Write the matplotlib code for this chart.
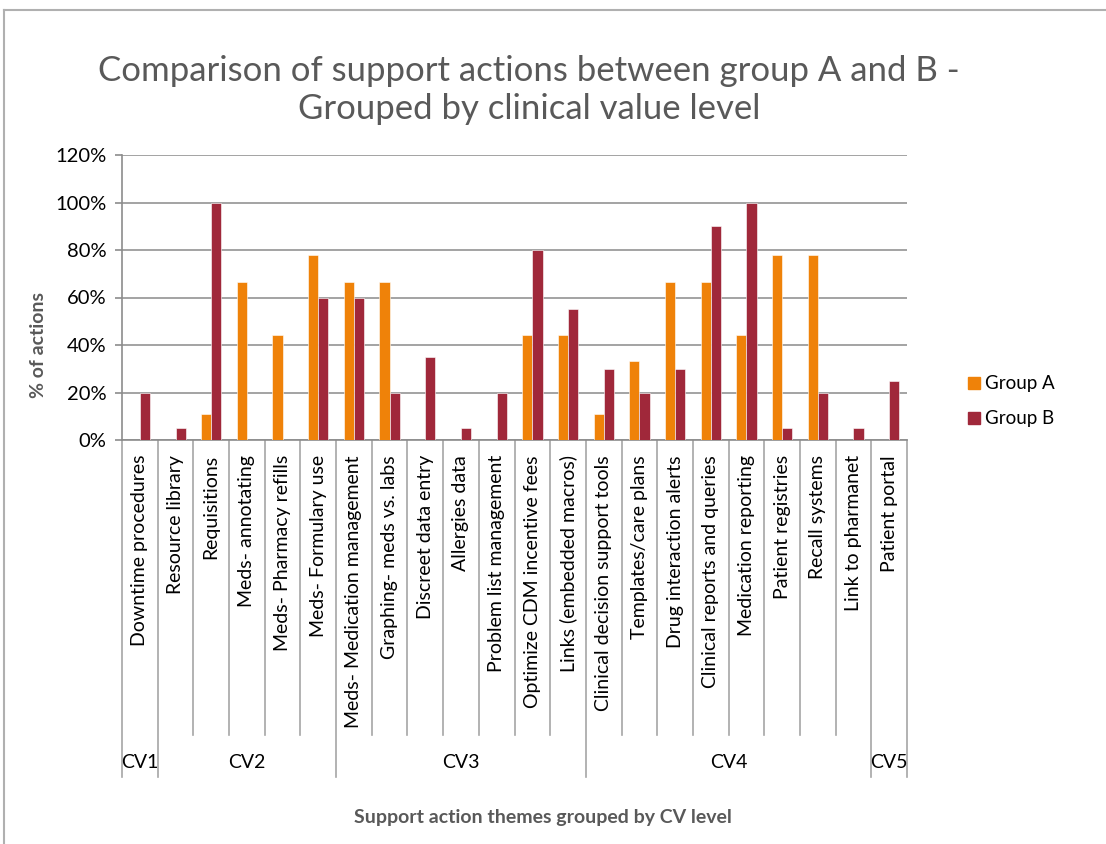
import matplotlib
matplotlib.use("Agg")
import matplotlib.pyplot as plt
import matplotlib.transforms as mtransforms
from matplotlib.lines import Line2D
from matplotlib.ticker import FuncFormatter, MultipleLocator
import numpy as np

plt.rcParams["font.family"] = ["Lato", "DejaVu Sans"]

# Support action themes, in display order
categories = [
    "Downtime procedures",
    "Resource library",
    "Requisitions",
    "Meds- annotating",
    "Meds- Pharmacy refills",
    "Meds- Formulary use",
    "Meds- Medication management",
    "Graphing- meds vs. labs",
    "Discreet data entry",
    "Allergies data",
    "Problem list management",
    "Optimize CDM incentive fees",
    "Links (embedded macros)",
    "Clinical decision support tools",
    "Templates/care plans",
    "Drug interaction alerts",
    "Clinical reports and queries",
    "Medication reporting",
    "Patient registries",
    "Recall systems",
    "Link to pharmanet",
    "Patient portal",
]

# Percentage of actions per theme
group_a = [0, 0, 11.1, 66.7, 44.4, 77.8, 66.7, 66.7, 0, 0, 0, 44.4, 44.4,
           11.1, 33.3, 66.7, 66.7, 44.4, 77.8, 77.8, 0, 0]
group_b = [20, 5, 100, 0, 0, 60, 60, 20, 35, 5, 20, 80, 55,
           30, 20, 30, 90, 100, 5, 20, 5, 25]

# Clinical value levels and how many themes each one covers
cv_levels = ["CV1", "CV2", "CV3", "CV4", "CV5"]
cv_sizes = [1, 5, 7, 8, 1]

series_names = ["Group A", "Group B"]
series_colors = ["#EF8209", "#A0283A"]

W, H = 1106, 844
fig = plt.figure(figsize=(W / 100, H / 100), dpi=100)

ax_left, ax_right, ax_top, ax_bottom = 122, 907, 155, 440
ax = fig.add_axes([ax_left / W, 1 - ax_bottom / H,
                   (ax_right - ax_left) / W, (ax_bottom - ax_top) / H])

n = len(categories)
x = np.arange(n)
bw = 1 / 3.5
ax.bar(x - bw / 2, group_a, bw, color=series_colors[0],
       edgecolor="white", linewidth=0.4, label=series_names[0], zorder=3)
ax.bar(x + bw / 2, group_b, bw, color=series_colors[1],
       edgecolor="white", linewidth=0.4, label=series_names[1], zorder=3)

ax.set_xlim(-0.5, n - 0.5)
ax.set_ylim(0, 120)
ax.yaxis.set_major_locator(MultipleLocator(20))
ax.yaxis.set_major_formatter(FuncFormatter(lambda v, p: f"{v:.0f}%"))
ax.grid(axis="y", color="#9C9C9C", linewidth=1.3, zorder=0)
ax.set_axisbelow(True)

for side in ("top", "right"):
    ax.spines[side].set_visible(False)
for side in ("left", "bottom"):
    ax.spines[side].set_color("#8C8C8C")
    ax.spines[side].set_linewidth(1.2)

ax.tick_params(axis="y", length=5, width=1.2, color="#8C8C8C",
               labelsize=14.5, labelcolor="black", pad=6)
ax.set_xticks([])

# Multi-level category axis below the plot
trans = mtransforms.blended_transform_factory(ax.transData, ax.transAxes)
px = ax_bottom - ax_top
cat_line_end = -(735 - ax_bottom) / px
grp_line_end = -(777 - ax_bottom) / px
label_top = -(455 - ax_bottom) / px
grp_label_y = -(762 - ax_bottom) / px

boundaries = np.concatenate([[0], np.cumsum(cv_sizes)]) - 0.5
for b in np.arange(-0.5, n, 1.0):
    end = grp_line_end if np.any(np.isclose(boundaries, b)) else cat_line_end
    ax.add_line(Line2D([b, b], [0, end], transform=trans, color="#A6A6A6",
                       linewidth=1.2, clip_on=False))

for i, name in enumerate(categories):
    ax.text(i, label_top, name, transform=trans, rotation=90, ha="center",
            va="top", fontsize=14, color="black", clip_on=False)

for lvl, lo, hi in zip(cv_levels, boundaries[:-1], boundaries[1:]):
    ax.text((lo + hi) / 2, grp_label_y, lvl, transform=trans, ha="center",
            va="center", fontsize=14, color="black", clip_on=False)

# Titles and axis titles
fig.text(529 / W, 1 - 71 / H, "Comparison of support actions between group A and B -",
         ha="center", va="center", fontsize=25, color="#595959")
fig.text(529 / W, 1 - 109 / H, "Grouped by clinical value level",
         ha="center", va="center", fontsize=25, color="#595959")
fig.text(38 / W, 1 - 345 / H, "% of actions", rotation=90, ha="center",
         va="center", fontsize=14, fontweight="bold", color="#595959")
fig.text(543 / W, 1 - 818 / H, "Support action themes grouped by CV level",
         ha="center", va="center", fontsize=14, fontweight="bold", color="#595959")

# Legend
for k, (name, col) in enumerate(zip(series_names, series_colors)):
    yc = 383 + 35 * k
    fig.patches.append(plt.Rectangle((968 / W, 1 - (yc + 6) / H), 12 / W, 12 / H,
                                     transform=fig.transFigure, color=col))
    fig.text(985 / W, 1 - yc / H, name, ha="left", va="center",
             fontsize=13.5, color="black")

# Chart frame
fig.add_artist(Line2D([4 / W, 1], [1 - 10 / H, 1 - 10 / H], transform=fig.transFigure,
                      color="#B0B0B0", linewidth=1.5))
fig.add_artist(Line2D([4 / W, 4 / W], [0, 1 - 10 / H], transform=fig.transFigure,
                      color="#B0B0B0", linewidth=1.5))

fig.savefig("out.png", dpi=100)
